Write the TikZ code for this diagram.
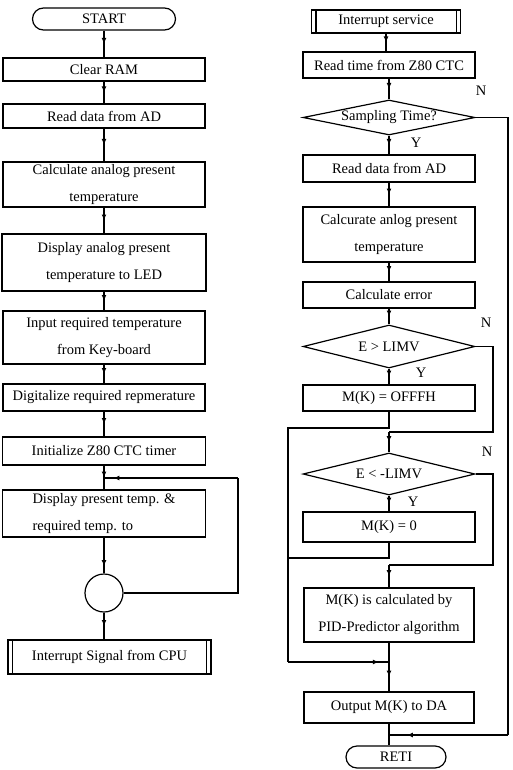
\documentclass[tikz,border=0pt]{standalone}
\usepackage{fontspec}
\setmainfont{Liberation Serif}
\usetikzlibrary{positioning, calc, shapes.geometric, arrows.meta, decorations.markings}
\tikzset{
%Flow line with an arrow tip on the way:
Flow/.style={
line width=1.2pt,
decoration={
markings,
mark=at position #1 with {
\arrow{Latex[length=6pt,width=5pt]}
}
},
preaction={decorate}
},
Flow/.default=0.5
}

\begin{document}
\begin{tikzpicture}[x=1pt, y=-1pt, line width=1.2pt,
			every node/.style={font=\fontsize{14.5}{27}\selectfont},
			process/.style={rectangle, draw, line width=1.2pt, align=center, inner sep=2pt, minimum width=172pt},
			terminal/.style={rectangle, rounded corners=11pt, draw, line width=1.2pt, inner sep=2pt},
			predef/.style={rectangle, draw, line width=1.2pt, inner sep=2pt},
			decision/.style={diamond, draw, line width=1.2pt, aspect=5, inner sep=0pt, minimum width=172pt},
			connector/.style={circle, draw, line width=1.2pt, minimum size=38pt},
			lbl/.style={inner sep=0pt},
		]
		\useasboundingbox (0,0) rectangle (512,770);

		% main program
		\node[terminal, minimum width=143pt, minimum height=22pt](start) at (104,19){START};
		\node[process, minimum width=202pt, minimum height=23pt](clr) at (104,69.5){Clear RAM};
		\node[process, minimum width=202pt, minimum height=24pt](rdad) at (104,116){Read data from AD};
		\node[process, minimum width=202pt, minimum height=45pt](calc) at (104,184.5){Calculate analog present\\temperature};
		\node[process, minimum width=204pt, minimum height=57pt](disp) at (104,262.5){Display analog present\\temperature to LED};
		\node[process, minimum width=202pt, minimum height=53pt](inp) at (104,337.5){Input required temperature\\from Key-board};
		\node[process, minimum width=202pt, minimum height=27pt](dig) at (104,397.5){Digitalize required repmerature};
		\node[process, minimum width=203pt, minimum height=28pt](init) at (104,451){Initialize Z80 CTC timer};
		\node[process, minimum width=203pt, minimum height=47pt, align=left](show) at (104,513.5){Display present temp. \&\\required temp. to};
		\node[connector](wait) at (104,593){};
		\node[predef, minimum width=203pt, minimum height=34pt](isig) at (109.5,657){Interrupt Signal from CPU};
		\draw ([xshift=5pt]isig.north west)--([xshift=5pt]isig.south west);
		\draw ([xshift=-5pt]isig.north east)--([xshift=-5pt]isig.south east);

		\coordinate(loopJ) at (104,478);
		\coordinate(loopR) at (238,478);

		\draw[Flow](start)--(clr);
		\draw[Flow](clr)--(rdad);
		\draw[Flow](rdad)--(calc);
		\draw[Flow](calc)--(disp);
		\draw[Flow](disp)--(inp);
		\draw[Flow](inp)--(dig);
		\draw[Flow](dig)--(init);
		\draw[Flow](init)--(show);
		\draw[Flow=0.8](show)--(wait);
		\draw[Flow](wait)--(wait |- isig.north);
		\draw(wait.east) -| (loopR);
		\draw[Flow=0.93](loopR)--(loopJ);

		% interrupt service routine
		\node[predef, minimum width=149pt, minimum height=23pt](isrv) at (386,21.5){Interrupt service};
		\draw ([xshift=5pt]isrv.north west)--([xshift=5pt]isrv.south west);
		\draw ([xshift=-5pt]isrv.north east)--([xshift=-5pt]isrv.south east);
		\node[process, minimum height=26pt](rtime) at (389,65){Read time from Z80 CTC};
		\node[decision, minimum height=35pt](samp) at (389,117.5){Sampling Time?};
		\node[process, minimum height=27pt](rdad2) at (389,168.5){Read data from AD};
		\node[process, minimum height=55pt](calc2) at (389,234.5){Calcurate anlog present\\temperature};
		\node[process, minimum height=26pt](err) at (389,295){Calculate error};
		\node[decision, minimum height=43pt](gt) at (389,346.5){E > LIMV};
		\node[process, minimum height=26pt](mkf) at (389,398){M(K) = OFFFH};
		\node[decision, minimum height=42pt](lt) at (389,474){E < -LIMV};
		\node[process, minimum height=30pt](mkz) at (389,527){M(K) = 0};
		\node[process, minimum width=170pt, minimum height=54pt](pid) at (389,615){M(K) is calculated by\\PID-Predictor algorithm};
		\node[process, minimum width=170pt, minimum height=31pt](out) at (389,707.5){Output M(K) to DA};
		\node[terminal, minimum width=100pt, minimum height=22pt](reti) at (396,757){RETI};

		\node[lbl](n1) at (481,91){N};
		\node[lbl](y1) at (416,143){Y};
		\node[lbl](n2) at (486,323){N};
		\node[lbl](y2) at (421,373){Y};
		\node[lbl](n3) at (487,452){N};
		\node[lbl](y3) at (413,502){Y};

		\coordinate(sideR) at (508,735);
		\coordinate(retJ) at (389,735);
		\coordinate(gtR) at (493,432);
		\coordinate(gtM) at (389,432);
		\coordinate(ltR) at (493,565);
		\coordinate(ltM) at (389,565);
		\coordinate(lftTop) at (288,428);
		\coordinate(lftMid) at (288,558);
		\coordinate(lftBot) at (288,662);
		\coordinate(pidJ) at (389,662);

		\draw[Flow](isrv)--(isrv |- rtime.north);
		\draw[Flow](rtime)--(samp);
		\draw[Flow](samp)--(rdad2);
		\draw(samp.east) -| (sideR);
		\draw[Flow=0.85](sideR)--(retJ);
		\draw[Flow](rdad2)--(calc2);
		\draw[Flow](calc2)--(err);
		\draw[Flow](err)--(gt);
		\draw[Flow](gt)--(mkf);
		\draw(gt.east) -| (gtR)--(gtM);
		\draw[Flow](gtM)--(lt.north);
		\draw(mkf.south) |- (lftTop)--(lftBot);
		\draw[Flow=0.9](lftBot)--(pidJ);
		\draw[Flow](lt)--(mkz);
		\draw(lt.east) -| (ltR)--(ltM);
		\draw[Flow](ltM)--(pid.north);
		\draw(mkz.south) |- (lftMid);
		\draw(pid)--(pidJ);
		\draw[Flow](pidJ)--(out);
		\draw(out)--(out.south |- reti.north);

	\end{tikzpicture}
\end{document}
